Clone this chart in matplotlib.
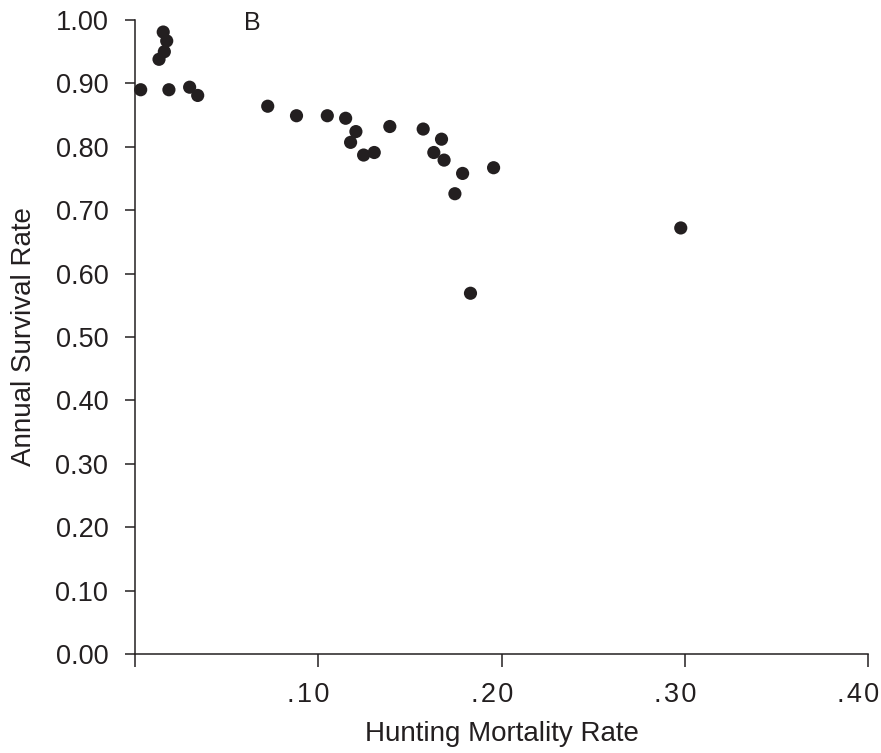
import matplotlib
matplotlib.use("Agg")
import matplotlib.pyplot as plt

plt.rcParams['font.family'] = ['Liberation Sans', 'DejaVu Sans']

# Hunting mortality rate vs. annual survival rate
hunting_mortality = [0.0154, 0.0173, 0.0160, 0.0131, 0.0031, 0.0185, 0.0298, 0.0342,
                     0.0724, 0.0881, 0.1049, 0.1149, 0.1205, 0.1176, 0.1247, 0.1305,
                     0.1390, 0.1572, 0.1672, 0.1630, 0.1686, 0.1787, 0.1956, 0.1745,
                     0.1830, 0.2977]
annual_survival = [0.981, 0.967, 0.950, 0.938, 0.890, 0.890, 0.894, 0.881,
                   0.864, 0.849, 0.849, 0.845, 0.824, 0.807, 0.787, 0.791,
                   0.832, 0.828, 0.812, 0.791, 0.779, 0.758, 0.767, 0.726,
                   0.569, 0.672]

x_ticks = [0.0, 0.10, 0.20, 0.30, 0.40]
x_tick_labels = ["", ".10", ".20", ".30", ".40"]
y_ticks = [0.0, 0.1, 0.2, 0.3, 0.4, 0.5, 0.6, 0.7, 0.8, 0.9, 1.0]
panel_label = "B"

ink = "#231f20"
W, H = 881, 753
fig = plt.figure(figsize=(W / 100, H / 100), dpi=100)
ax = fig.add_axes([135 / W, 1 - 654 / H, (868.3 - 135) / W, (654 - 20) / H])

ax.scatter(hunting_mortality, annual_survival, s=90, color=ink, edgecolors='none',
           zorder=3, clip_on=False)

ax.set_xlim(0, 0.40)
ax.set_ylim(0, 1.0)

for side in ("top", "right"):
    ax.spines[side].set_visible(False)
for side in ("left", "bottom"):
    ax.spines[side].set_color(ink)
    ax.spines[side].set_linewidth(1.1)

ax.set_xticks(x_ticks)
ax.set_xticklabels([""] * len(x_ticks))
ax.set_yticks(y_ticks)
ax.set_yticklabels([f"{v:.2f}" for v in y_ticks])

ax.tick_params(axis='x', direction='out', length=9, width=1.1, color=ink)
ax.tick_params(axis='y', direction='out', length=7.2, width=1.1, color=ink,
               labelsize=19.5, labelcolor=ink, pad=12)

# letter-spaced x tick labels, set slightly left of their ticks
hair = "\u200a"
for xv, lbl in zip(x_ticks, x_tick_labels):
    if lbl:
        ax.annotate(hair.join(lbl), xy=(xv, 0), xycoords=('data', 'axes fraction'),
                    xytext=(-10, -28.5), textcoords='offset pixels',
                    ha='center', va='top', fontsize=19.5, color=ink,
                    annotation_clip=False)

ax.set_xlabel("Hunting Mortality Rate", fontsize=20, color=ink, labelpad=36)
ax.set_ylabel("Annual Survival Rate", fontsize=20, color=ink, labelpad=13)

ax.text(0.0594, 0.984, panel_label, fontsize=18, color=ink, ha='left', va='baseline')

fig.savefig("out.png", dpi=100)
